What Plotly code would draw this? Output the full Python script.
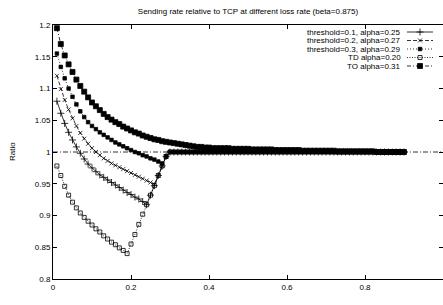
import plotly.graph_objects as go

# ---------------- data ----------------
P = [0.01, 0.02, 0.03, 0.04, 0.05, 0.06, 0.07, 0.08, 0.09, 0.10,
     0.11, 0.12, 0.13, 0.14, 0.15, 0.16, 0.17, 0.18, 0.19, 0.20,
     0.21, 0.22, 0.23, 0.24, 0.25, 0.26, 0.27, 0.28, 0.29, 0.30,
     0.31, 0.32, 0.33, 0.34, 0.35, 0.36, 0.37, 0.38, 0.39, 0.40,
     0.41, 0.42, 0.43, 0.44, 0.45, 0.46, 0.47, 0.48, 0.49, 0.50,
     0.51, 0.52, 0.53, 0.54, 0.55, 0.56, 0.57, 0.58, 0.59, 0.60,
     0.61, 0.62, 0.63, 0.64, 0.65, 0.66, 0.67, 0.68, 0.69, 0.70,
     0.71, 0.72, 0.73, 0.74, 0.75, 0.76, 0.77, 0.78, 0.79, 0.80,
     0.81, 0.82, 0.83, 0.84, 0.85, 0.86, 0.87, 0.88, 0.89, 0.90]

# values for p = 0.31 .. 0.90 (all curves except TO sit on 1)
FLAT_TAIL = [1.000, 1.000, 1.000, 1.000, 1.000, 1.000, 1.000, 1.000, 1.000, 1.000,
             1.000, 1.000, 1.000, 1.000, 1.000, 1.000, 1.000, 1.000, 1.000, 1.000,
             1.000, 1.000, 1.000, 1.000, 1.000, 1.000, 1.000, 1.000, 1.000, 1.000,
             1.000, 1.000, 1.000, 1.000, 1.000, 1.000, 1.000, 1.000, 1.000, 1.000,
             1.000, 1.000, 1.000, 1.000, 1.000, 1.000, 1.000, 1.000, 1.000, 1.000,
             1.000, 1.000, 1.000, 1.000, 1.000, 1.000, 1.000, 1.000, 1.000, 1.000]

THR1_HEAD = [1.080, 1.061, 1.045, 1.031, 1.019, 1.008, 0.998, 0.989, 0.981, 0.975,
             0.969, 0.964, 0.960, 0.956, 0.952, 0.948, 0.944, 0.940, 0.936, 0.933,
             0.929, 0.926, 0.922, 0.917, 0.932, 0.947, 0.963, 0.978, 0.993, 1.000]
THR2_HEAD = [1.120, 1.099, 1.082, 1.067, 1.053, 1.041, 1.030, 1.021, 1.013, 1.006,
             1.000, 0.995, 0.990, 0.986, 0.982, 0.979, 0.976, 0.973, 0.970, 0.967,
             0.964, 0.961, 0.958, 0.955, 0.952, 0.949, 0.963, 0.978, 0.993, 1.000]
THR3_HEAD = [1.155, 1.134, 1.116, 1.100, 1.087, 1.075, 1.064, 1.055, 1.047, 1.041,
             1.036, 1.031, 1.027, 1.023, 1.019, 1.015, 1.012, 1.009, 1.006, 1.003,
             1.000, 0.998, 0.995, 0.993, 0.990, 0.988, 0.985, 0.982, 0.993, 1.000]
TD_HEAD = [0.978, 0.963, 0.946, 0.932, 0.921, 0.912, 0.904, 0.897, 0.891, 0.885,
           0.879, 0.874, 0.868, 0.863, 0.858, 0.854, 0.849, 0.845, 0.840, 0.855,
           0.870, 0.886, 0.902, 0.917, 0.932, 0.947, 0.963, 0.978, 0.993, 1.000]
TO = [1.195, 1.170, 1.152, 1.138, 1.126, 1.114, 1.104, 1.095, 1.086, 1.078,
      1.072, 1.066, 1.060, 1.055, 1.051, 1.047, 1.044, 1.040, 1.037, 1.034,
      1.031, 1.029, 1.026, 1.024, 1.022, 1.020, 1.019, 1.017, 1.016, 1.015,
      1.014, 1.013, 1.012, 1.011, 1.010, 1.009, 1.008, 1.008, 1.007, 1.007,
      1.006, 1.006, 1.006, 1.006, 1.006, 1.005, 1.005, 1.005, 1.005, 1.005,
      1.004, 1.004, 1.004, 1.004, 1.004, 1.004, 1.003, 1.003, 1.003, 1.003,
      1.003, 1.003, 1.003, 1.002, 1.002, 1.002, 1.002, 1.002, 1.002, 1.002,
      1.002, 1.002, 1.001, 1.001, 1.001, 1.001, 1.001, 1.001, 1.001, 1.001,
      1.001, 1.001, 1.000, 1.000, 1.000, 1.000, 1.000, 1.000, 1.000, 1.000]

THR1 = THR1_HEAD + FLAT_TAIL
THR2 = THR2_HEAD + FLAT_TAIL
THR3 = THR3_HEAD + FLAT_TAIL
TD = TD_HEAD + FLAT_TAIL

REF_X = [0.0, 1.0]
REF_Y = [1.0, 1.0]

NAMES = ["threshold=0.1, alpha=0.25", "threshold=0.2, alpha=0.27",
         "threshold=0.3, alpha=0.29", "TD alpha=0.20", "TO alpha=0.31"]
X_TICKS = [0, 0.2, 0.4, 0.6, 0.8]
X_LABELS = ["0", "0.2", "0.4", "0.6", "0.8"]
Y_TICKS = [0.8, 0.85, 0.9, 0.95, 1.0, 1.05, 1.1, 1.15, 1.2]
Y_LABELS = ["0.8", "0.85", "0.9", "0.95", "1", "1.05", "1.1", "1.15", "1.2"]

# ---------------- styles ----------------
FONT = "Liberation Sans, Arial, sans-serif"
W, H = 443, 305
L, R, T, B = 53, 0, 25, 26

STYLES = [
    dict(dash="solid", symbol="cross-thin", size=5),
    dict(dash="4px,2px", symbol="x-thin", size=4),
    dict(dash="1px,2px", symbol="square", size=3.5),
    dict(dash="1px,1.5px", symbol="square-open", size=4),
    dict(dash="4px,2px,1px,2px", symbol="square", size=5),
]
SERIES = [THR1, THR2, THR3, TD, TO]


def marker(st):
    return dict(symbol=st["symbol"], size=st["size"], color="black",
                line=dict(color="black", width=0.8))


fig = go.Figure()

# reference line at ratio 1
fig.add_trace(go.Scatter(x=REF_X, y=REF_Y, mode="lines",
                         line=dict(color="black", width=0.8, dash="5px,2px,1px,2px"),
                         showlegend=False, hoverinfo="skip"))

for ys, st, nm in zip(SERIES, STYLES, NAMES):
    fig.add_trace(go.Scatter(x=P, y=ys, mode="lines+markers", name=nm,
                             line=dict(color="black", width=0.8, dash=st["dash"]),
                             marker=marker(st), showlegend=False))

# gnuplot-style key (text then sample) on a pixel-unit overlay axis
row_y = [32, 40.5, 49, 57.5, 66]
for i, (st, nm) in enumerate(zip(STYLES, NAMES)):
    yy = row_y[i]
    fig.add_trace(go.Scatter(x=[407, 433], y=[yy, yy], mode="lines",
                             line=dict(color="black", width=0.8, dash=st["dash"]),
                             xaxis="x2", yaxis="y2", showlegend=False, hoverinfo="skip"))
    fig.add_trace(go.Scatter(x=[420], y=[yy], mode="markers", marker=marker(st),
                             xaxis="x2", yaxis="y2", showlegend=False, hoverinfo="skip"))
    fig.add_annotation(x=403, y=yy, xref="x2", yref="y2", text=nm, showarrow=False,
                       xanchor="right", yanchor="middle",
                       font=dict(family=FONT, size=8, color="black"))

axis_common = dict(showline=True, linecolor="black", linewidth=1, mirror="ticks",
                   ticks="inside", ticklen=4, tickcolor="black", tickwidth=1,
                   showgrid=False, zeroline=False,
                   tickfont=dict(family=FONT, size=8, color="black"))

fig.update_layout(
    width=W, height=H,
    margin=dict(l=L, r=R, t=T, b=B, pad=0),
    paper_bgcolor="white", plot_bgcolor="white",
    showlegend=False,
    title=dict(text="Sending rate relative to TCP at different loss rate (beta=0.875)",
               x=248 / W, xanchor="center", y=1 - 11 / H, yanchor="middle",
               font=dict(family=FONT, size=8, color="black")),
    xaxis=dict(range=[0, 1], tickvals=X_TICKS, ticktext=X_LABELS, **axis_common),
    yaxis=dict(range=[0.8, 1.2], tickvals=Y_TICKS, ticktext=Y_LABELS, **axis_common),
    xaxis2=dict(range=[L, W - R], overlaying="x", visible=False, fixedrange=True),
    yaxis2=dict(range=[H - B, T], overlaying="y", visible=False, fixedrange=True),
)

fig.add_annotation(x=0.5 * (L + W - R), y=297, xref="x2", yref="y2",
                   text="Loss rate (p)", showarrow=False, xanchor="center", yanchor="middle",
                   font=dict(family=FONT, size=8, color="black"))
fig.add_annotation(x=(12 - L) / (W - L - R), y=0.5, xref="paper", yref="paper",
                   text="Ratio", showarrow=False, textangle=-90,
                   xanchor="center", yanchor="middle",
                   font=dict(family=FONT, size=8, color="black"))

fig.write_html("out.html", config={"displayModeBar": False},
               post_script="document.body.style.margin='0';document.body.style.overflow='hidden';")
